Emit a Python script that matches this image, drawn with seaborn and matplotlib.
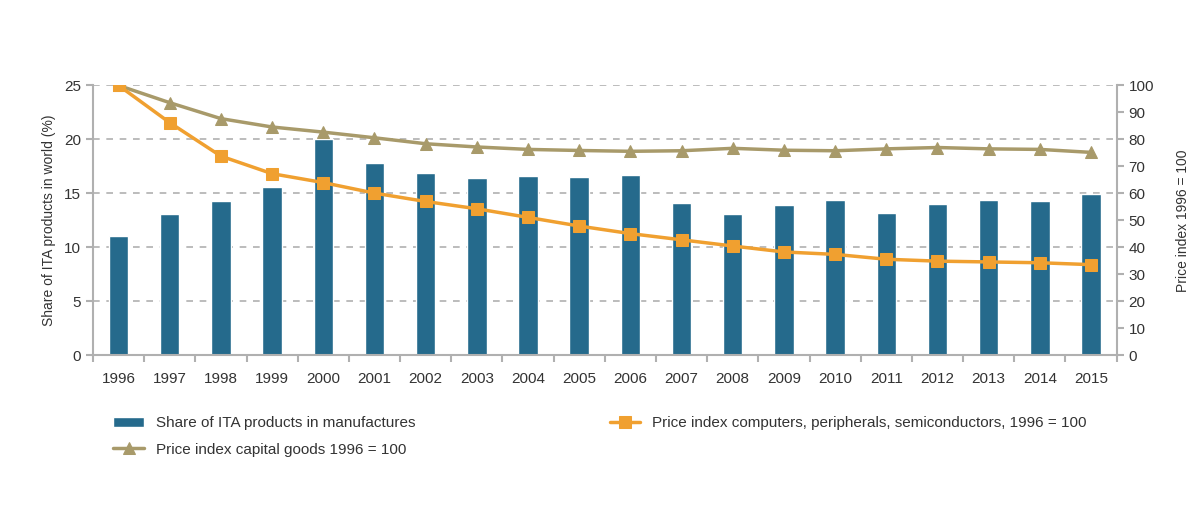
import numpy as np
import pandas as pd
import matplotlib
matplotlib.use("Agg")
import matplotlib.pyplot as plt
import seaborn as sns

years = [str(y) for y in range(1996, 2016)]
share_ita = [11.05, 13.1, 14.3, 15.6, 20.05, 17.8, 16.85, 16.45, 16.6, 16.55,
             16.75, 14.1, 13.05, 13.9, 14.4, 13.2, 14.0, 14.4, 14.3, 14.95]
price_computers = [100, 86.2, 73.8, 67.3, 64.0, 60.1, 57.0, 54.3, 51.1, 47.9,
                   45.1, 42.8, 40.5, 38.3, 37.4, 35.6, 34.9, 34.6, 34.3, 33.6]
price_capital = [100, 93.6, 87.7, 84.6, 82.7, 80.6, 78.4, 77.2, 76.3, 75.9,
                 75.6, 75.8, 76.7, 76.0, 75.8, 76.5, 77.0, 76.5, 76.3, 75.2]

lbl_share = "Share of ITA products in manufactures"
lbl_comp = "Price index computers, peripherals, semiconductors, 1996 = 100"
lbl_cap = "Price index capital goods 1996 = 100"

sns.set_theme(style="white")
plt.rcParams['font.family'] = ['Liberation Sans', 'DejaVu Sans']

BAR = "#256a8c"
ORANGE = "#f0a030"
TAN = "#a89a6a"
GREY = "#b0b0b0"

fig = plt.figure(figsize=(12, 5.21), dpi=100)
ax = fig.add_axes([0.0775, 0.318, 0.853, 0.518])
ax2 = ax.twinx()

df = pd.DataFrame({"year": years, "share": share_ita,
                   "comp": price_computers, "cap": price_capital})
df["pos"] = np.arange(len(years))

sns.barplot(data=df, x="year", y="share", color=BAR, width=0.38, ax=ax,
            saturation=1, label=lbl_share, zorder=2)

sns.lineplot(data=df, x="pos", y="cap", color=TAN, marker="^", markersize=9,
             markeredgecolor=TAN, linewidth=2.5, ax=ax2, label=lbl_cap)
sns.lineplot(data=df, x="pos", y="comp", color=ORANGE, marker="s", markersize=8.5,
             markeredgecolor=ORANGE, linewidth=2.5, ax=ax2, label=lbl_comp)

ax.set_xlim(-0.5, len(years) - 0.5)
ax.set_ylim(0, 25)
ax2.set_ylim(0, 100)
ax.set_yticks(np.arange(0, 26, 5))
ax2.set_yticks(np.arange(0, 101, 10))

ax.grid(axis="y", linestyle=(0, (4, 4)), color=GREY, linewidth=1.2, zorder=0)
ax.set_axisbelow(True)
ax2.grid(False)

for a in (ax, ax2):
    for s in a.spines.values():
        s.set_visible(False)
ax.spines["left"].set_visible(True)
ax.spines["bottom"].set_visible(True)
ax2.spines["right"].set_visible(True)
for s in (ax.spines["left"], ax.spines["bottom"], ax2.spines["right"]):
    s.set_color(GREY)
    s.set_linewidth(1.5)

ax.set_xticks(np.arange(-0.5, len(years), 1.0), minor=True)
ax.tick_params(axis="x", which="major", length=0, labelsize=11, pad=12, colors="#333333")
ax.tick_params(axis="x", which="minor", length=5, width=1.5, color=GREY, direction="out", bottom=True)
ax.tick_params(axis="y", length=5, width=1.5, color=GREY, direction="out", left=True,
               labelsize=11, labelcolor="#333333")
ax2.tick_params(axis="y", length=5, width=1.5, color=GREY, direction="out", right=True,
                labelsize=11, labelcolor="#333333")

ax.set_xlabel("")
ax.set_ylabel("Share of ITA products in world (%)", fontsize=10, color="#333333", labelpad=6)
ax2.set_xlabel("")
ax2.set_ylabel("Price index 1996 = 100", fontsize=10, color="#333333", labelpad=16)

if ax2.get_legend():
    ax2.get_legend().remove()
if ax.get_legend():
    ax.get_legend().remove()

h1, l1 = ax.get_legend_handles_labels()
h2, l2 = ax2.get_legend_handles_labels()
handles = [h1[0], h2[0], h2[1]]
labels = [lbl_share, lbl_cap, lbl_comp]
fig.legend(handles, labels, ncol=2, frameon=False, loc="upper left",
           bbox_to_anchor=(0.083, 0.227), fontsize=11, columnspacing=12.7,
           handlelength=2.0, labelspacing=0.8, labelcolor="#333333")

fig.savefig("out.png", dpi=100)
